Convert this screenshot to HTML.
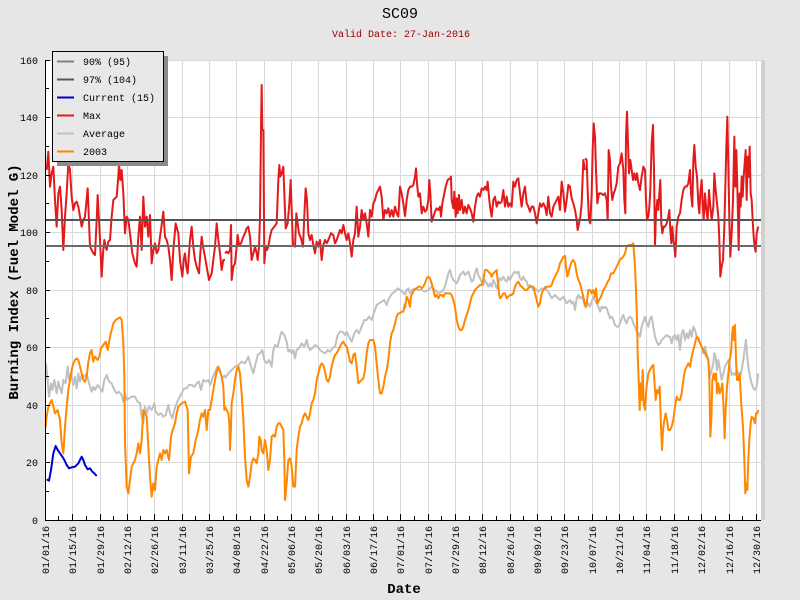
<!DOCTYPE html>
<html>
<head>
<meta charset="utf-8">
<style>
html,body{margin:0;padding:0;background:#e6e6e6;}
svg{display:block;}
text{font-family:"Liberation Mono","DejaVu Sans Mono",monospace;}
</style>
</head>
<body>
<svg width="800" height="600" viewBox="0 0 800 600" xmlns="http://www.w3.org/2000/svg">
<rect x="0" y="0" width="800" height="600" fill="#e6e6e6"/>
<!-- plot area -->
<rect x="45" y="60" width="716" height="460" fill="#ffffff"/>
<!-- grid -->
<g stroke="#d9d9d9" stroke-width="1" shape-rendering="crispEdges">
<line x1="45" y1="60.5" x2="761" y2="60.5"/>
<line x1="45" y1="117.5" x2="761" y2="117.5"/>
<line x1="45" y1="175.5" x2="761" y2="175.5"/>
<line x1="45" y1="232.5" x2="761" y2="232.5"/>
<line x1="45" y1="290.5" x2="761" y2="290.5"/>
<line x1="45" y1="347.5" x2="761" y2="347.5"/>
<line x1="45" y1="405.5" x2="761" y2="405.5"/>
<line x1="45" y1="462.5" x2="761" y2="462.5"/>
<line x1="72.5" y1="60" x2="72.5" y2="520"/>
<line x1="100.5" y1="60" x2="100.5" y2="520"/>
<line x1="127.5" y1="60" x2="127.5" y2="520"/>
<line x1="154.5" y1="60" x2="154.5" y2="520"/>
<line x1="182.5" y1="60" x2="182.5" y2="520"/>
<line x1="209.5" y1="60" x2="209.5" y2="520"/>
<line x1="236.5" y1="60" x2="236.5" y2="520"/>
<line x1="264.5" y1="60" x2="264.5" y2="520"/>
<line x1="291.5" y1="60" x2="291.5" y2="520"/>
<line x1="318.5" y1="60" x2="318.5" y2="520"/>
<line x1="346.5" y1="60" x2="346.5" y2="520"/>
<line x1="373.5" y1="60" x2="373.5" y2="520"/>
<line x1="400.5" y1="60" x2="400.5" y2="520"/>
<line x1="428.5" y1="60" x2="428.5" y2="520"/>
<line x1="455.5" y1="60" x2="455.5" y2="520"/>
<line x1="482.5" y1="60" x2="482.5" y2="520"/>
<line x1="510.5" y1="60" x2="510.5" y2="520"/>
<line x1="537.5" y1="60" x2="537.5" y2="520"/>
<line x1="564.5" y1="60" x2="564.5" y2="520"/>
<line x1="592.5" y1="60" x2="592.5" y2="520"/>
<line x1="619.5" y1="60" x2="619.5" y2="520"/>
<line x1="646.5" y1="60" x2="646.5" y2="520"/>
<line x1="674.5" y1="60" x2="674.5" y2="520"/>
<line x1="701.5" y1="60" x2="701.5" y2="520"/>
<line x1="729.5" y1="60" x2="729.5" y2="520"/>
<line x1="756.5" y1="60" x2="756.5" y2="520"/>
</g>
<rect x="761" y="60" width="4" height="460" fill="#d0d0d0"/>

<!-- Average series -->
<g fill="none" stroke="#c0c0c0" stroke-width="6" stroke-linejoin="round">
<polyline transform="translate(45,60) scale(0.333333)" points="3,910 8,960 12,1010 18,970 22,990 28,960 35,1000 40,965 45,985 50,1000 55,960 62,970 68,920 72,960 78,940 85,975 90,950 95,985 100,940 105,965 110,945 118,950 125,940 132,970 140,995 145,980 150,990 158,975 165,985 172,995 178,960 185,945 192,965 200,970 208,990 215,1000 222,995 230,1005 235,1025 240,1000 245,1020 252,1015 260,1010 270,1010 278,1025 285,1030 290,1070 295,1090 300,1040 305,1060 312,1040 320,1050 328,1030 332,1055 340,1065 348,1060 355,1070 362,1065 370,1035 375,1060 382,1075 388,1050 395,1030 402,1015 410,1000 418,985 425,985 432,975 440,975 448,980 455,970 462,965 468,990 475,960 482,965 490,960 496,975 502,955 510,935 518,920 525,930 532,955 540,945"/>
<polyline transform="translate(225,60) scale(0.333333)" points="0,955 10,940 20,930 30,920 40,915 50,905 60,910 70,890 78,920 85,940 92,910 98,885 105,880 112,870 118,900 125,910 132,900 140,920 145,870 150,855 158,860 165,830 170,815 178,825 185,845 190,875 195,870 200,880 205,870 210,895 215,870 222,865 230,850 238,860 245,840 250,860 255,870 262,865 270,855 278,860 285,870 292,875 300,880 308,870 315,875 322,865 330,860 338,825 345,815 352,815 360,825 365,815 372,830 380,845 388,820 395,810 402,820 410,800 418,780 425,780 432,770 440,780 448,755 455,735 462,730 470,725 478,720 485,735 490,720 495,710 502,700 510,695 518,685 525,690 532,695 540,705"/>
<polyline transform="translate(405,60) scale(0.333333)" points="0,705 5,690 10,685 15,700 20,690 30,685 40,690 50,690 60,695 70,690 80,680 90,690 100,700 110,695 115,690 120,680 125,660 130,640 135,630 140,650 145,660 150,665 155,670 160,660 165,645 170,640 175,635 180,645 185,640 190,635 195,650 200,665 205,660 210,640 215,625 220,645 225,655 230,665 235,675 240,660 245,670 250,680 255,670 260,680 265,660 270,670 275,685 280,670 285,655 290,660 295,650 300,660 305,665 310,650 315,660 320,650 325,640 330,635 335,640 340,635 345,655 350,660 355,650 360,660 365,665 370,680 375,675 380,680 385,690 390,685 395,690 400,695 405,690 410,685 415,690 420,680 425,690 430,695 435,705 440,715 445,710 450,705 455,710 460,715 465,720 470,715 475,710 480,720 485,730 490,725 495,720 500,730 505,725 510,750 515,715 520,705 525,715 530,710 535,720 540,740"/>
<polyline transform="translate(585,60) scale(0.333333)" points="0,745 5,740 10,730 15,740 20,725 25,710 30,720 35,730 40,740 45,755 50,740 55,745 60,740 65,745 70,760 75,775 80,770 85,780 90,795 95,800 100,800 105,790 110,775 115,765 120,780 125,790 130,775 135,770 140,775 145,790 150,800 155,815 160,820 165,830 170,800 175,785 180,770 185,790 190,800 195,775 200,770 205,800 210,830 215,845 220,855 225,850 230,840 235,835 240,830 245,825 250,830 255,830 260,850 265,830 270,825 275,840 280,825 285,870 290,820 295,810 300,840 305,820 310,835 315,810 320,830 325,800 330,810 335,830 340,840 345,850 350,860 355,880 360,860 365,880 370,900 375,950 380,930 385,910 388,880 392,890 396,930 400,900 405,930 410,960 415,940 420,920 425,910 430,900 435,920 440,945 445,940 450,945 455,930 460,940 465,950 470,930 475,900 480,860 483,840 486,880 490,920 495,950 500,970 505,985 510,990 515,980 520,940"/>
</g>

<!-- 2003 series -->
<g fill="none" stroke="#ff8800" stroke-width="6" stroke-linejoin="round">
<polyline transform="translate(45,60) scale(0.333333)" points="2,1100 5,1070 10,1040 15,1030 20,1020 25,1040 30,1060 38,1050 45,1080 50,1150 55,1180 60,1100 65,1040 70,990 75,960 80,930 85,910 90,900 95,895 100,900 105,920 110,940 115,960 120,965 125,950 130,905 135,880 140,870 145,905 150,890 158,900 163,890 168,865 175,855 182,845 188,870 195,830 200,810 205,790 212,780 220,775 225,772 230,780 235,850 238,950 240,1150 245,1280 250,1300 255,1260 260,1220 265,1210 270,1200 275,1180 280,1150 285,1180 290,1140 295,1050 300,1060 305,1070 310,1160 315,1250 320,1310 325,1270 330,1290 335,1220 340,1200 345,1180 350,1200 355,1170 360,1180 365,1170 372,1200 378,1130 383,1110 390,1090 395,1060 400,1040 410,1030 420,1025 428,1050 432,1240 438,1190 445,1180 452,1140 458,1120 465,1080 470,1060 475,1070 480,1050 485,1110 490,1050 495,1050 500,1020 505,990 510,960 515,935 520,920 525,935 530,950 535,980 538,1050 540,1040"/>
<polyline transform="translate(225,60) scale(0.333333)" points="0,1040 5,1050 10,1060 13,1090 15,1170 18,1100 20,1030 25,1000 30,960 35,930 40,920 45,940 50,1000 55,1080 60,1190 65,1260 70,1280 75,1250 80,1210 85,1195 90,1200 95,1210 100,1180 103,1130 107,1140 110,1170 115,1180 120,1140 125,1170 130,1230 135,1200 140,1130 145,1125 150,1130 155,1100 160,1090 165,1090 170,1100 175,1110 178,1200 180,1320 185,1270 190,1200 195,1195 200,1220 205,1280 210,1280 215,1170 220,1130 225,1100 230,1090 235,1070 240,1060 245,1070 250,1080 255,1060 260,1030 265,1020 270,1000 275,960 280,940 285,920 290,910 295,915 300,935 305,960 310,965 315,950 320,920 325,900 330,885 335,880 340,870 345,860 350,850 355,845 360,855 365,860 370,880 375,905 380,910 385,885 390,880 395,920 400,970 405,965 410,960 415,955 420,930 425,880 430,850 435,840 440,840 445,840 450,860 455,910 460,960 465,1000 470,1000 475,980 480,950 485,930 490,900 495,850 500,820 505,810 510,790 515,770 520,760 525,760 530,755 535,755 540,730"/>
<polyline transform="translate(405,60) scale(0.333333)" points="0,745 5,710 10,720 15,740 18,710 22,700 28,690 35,685 40,680 45,680 50,685 55,680 60,670 65,655 70,650 75,655 80,670 85,690 90,710 95,705 100,715 105,705 110,705 115,710 120,700 125,700 130,700 135,700 140,705 145,720 150,740 155,780 160,800 165,810 170,810 175,800 180,780 185,765 190,750 195,730 200,710 205,700 210,690 215,685 220,680 225,675 230,675 235,660 240,630 245,630 250,635 255,640 260,650 265,640 270,635 275,630 278,660 282,700 285,715 290,710 295,700 300,700 305,715 310,710 315,705 320,705 325,700 330,680 335,670 340,665 345,675 350,680 355,685 360,690 365,690 370,685 375,680 380,680 385,680 390,700 395,720 400,740 405,730 410,700 415,690 420,685 425,680 430,680 435,680 440,675 445,660 450,650 455,640 460,630 465,610 470,600 475,590 480,588 483,620 487,650 490,640 495,620 500,605 505,600 510,610 515,640 520,660 525,670 530,690 535,710 540,735"/>
<polyline transform="translate(585,60) scale(0.333333)" points="0,740 5,730 10,690 15,690 20,700 25,690 30,710 33,685 37,730 42,720 48,710 55,690 62,680 68,665 72,660 78,640 85,640 90,630 95,620 100,610 105,598 110,595 115,590 120,580 125,560 130,555 135,555 140,555 145,550 150,620 153,690 156,780 158,880 161,960 164,1050 167,970 170,1020 173,930 176,1030 180,1050 183,1000 186,970 190,940 195,930 200,920 205,915 208,960 212,1020 216,990 220,1000 224,980 228,1100 231,1170 234,1110 238,1080 242,1060 246,1080 250,1110 255,1110 260,1100 265,1080 270,1040 275,1010 280,1020 285,1020 290,1000 295,960 300,930 305,920 310,910 315,920 320,890 325,870 330,850 335,830 340,835 345,850 350,860 355,870 360,880 365,890 370,900 373,960 376,1130 379,1080 382,960 386,940 390,960 393,940 396,1000 400,970 404,1000 408,990 412,970 416,1050 419,1135 422,1050 426,980 430,940 434,900 438,880 441,830 444,800 447,840 450,795 453,900 456,960 460,960 464,940 467,1000 470,1050 474,1100 478,1200 481,1300 484,1270 487,1290 490,1200 493,1140 497,1090 500,1070 505,1075 510,1090 513,1060 517,1060 520,1050"/>
</g>

<!-- Max series -->
<g fill="none" stroke="#e31a1c" stroke-width="6" stroke-linejoin="round">
<polyline transform="translate(45,60) scale(0.333333)" points="5,330 10,275 15,380 20,340 25,320 30,420 35,500 40,400 45,380 50,450 55,570 60,470 65,400 70,310 75,330 80,410 85,450 90,430 95,425 100,440 105,470 110,500 115,480 120,470 128,385 135,560 140,570 145,580 150,585 155,480 158,405 162,480 165,540 170,650 174,580 178,540 182,560 185,570 190,545 195,540 200,470 205,420 210,415 215,410 220,350 222,310 226,360 230,330 235,400 240,520 245,470 250,480 255,520 262,580 270,610 275,620 280,530 285,470 290,570 295,410 300,500 305,470 310,530 315,465 320,610 325,570 330,550 335,580 340,570 345,530 348,510 355,455 360,530 365,540 370,560 375,600 380,660 385,570 392,490 400,520 405,600 412,650 416,600 420,580 424,620 428,640 432,580 435,540 440,500 445,560 450,600 455,620 462,640 466,580 470,530 474,560 478,580 485,620 492,660 500,640 505,600 510,560 515,490 520,540 525,580 530,630 535,600 540,600"/>
<polyline transform="translate(225,60) scale(0.333333)" points="0,580 5,575 10,580 15,570 18,495 20,660 25,620 30,610 35,560 38,525 42,555 48,550 55,530 60,520 65,505 70,500 75,530 80,600 85,580 90,560 95,580 98,600 102,560 105,470 108,210 110,75 112,210 115,210 118,610 122,560 126,570 130,560 135,530 140,510 148,500 155,490 160,360 163,315 166,350 170,340 175,320 178,400 182,505 188,490 193,430 197,360 200,450 204,555 210,560 214,460 218,490 222,520 228,535 234,560 238,465 242,385 246,420 250,520 255,540 260,525 265,555 270,580 275,545 280,560 285,540 290,600 295,555 300,540 305,550 310,540 318,520 325,525 330,550 335,540 340,525 345,510 350,520 355,495 360,520 365,540 370,520 375,550 380,590 385,540 390,520 395,440 400,530 405,500 410,450 415,480 420,460 425,490 430,530 435,450 440,470 445,430 450,420 455,400 460,390 465,380 470,410 475,480 480,450 485,460 490,445 495,470 500,450 505,470 510,440 515,460 520,470 525,380 530,400 535,430 540,470"/>
<polyline transform="translate(405,60) scale(0.333333)" points="0,470 5,420 10,390 15,380 20,380 25,375 30,350 33,325 36,370 40,410 45,400 50,460 55,440 60,455 65,450 70,420 73,360 76,400 80,485 85,470 90,455 95,445 100,450 105,440 108,470 112,430 118,400 122,380 128,360 135,355 138,350 140,420 145,445 148,395 152,470 155,415 158,460 162,405 165,450 170,420 175,460 180,440 185,460 190,435 195,445 200,460 205,485 210,440 215,410 220,400 225,410 230,385 235,390 240,380 245,390 248,365 252,410 255,440 260,470 265,420 270,410 275,440 280,425 285,430 290,425 295,390 300,440 305,410 310,440 315,430 320,440 325,365 330,380 335,360 340,355 345,400 350,440 355,400 360,380 365,430 370,440 375,455 380,440 385,440 390,460 395,490 400,460 405,430 410,440 415,430 420,440 425,465 430,410 435,460 440,470 445,440 450,430 455,420 460,410 465,450 470,365 475,400 480,455 485,420 490,375 495,380 500,415 505,430 510,450 515,480 518,510 522,490 526,470 530,430 535,300 540,330"/>
<polyline transform="translate(585,60) scale(0.333333)" points="0,295 5,300 8,390 12,480 16,490 20,400 23,270 26,190 30,230 33,330 37,430 42,400 48,400 55,405 60,400 65,420 68,480 71,270 75,300 78,380 82,420 86,400 90,390 95,370 100,320 105,310 110,280 115,330 118,420 121,460 123,230 126,155 129,250 132,340 136,300 140,330 144,360 148,340 152,360 156,340 160,370 165,390 170,350 175,320 180,330 183,420 186,480 190,470 193,440 196,390 200,250 204,195 207,330 210,555 213,460 217,420 220,450 223,400 226,360 229,490 232,520 236,500 240,500 245,490 250,470 253,450 256,510 259,550 262,500 265,540 268,560 271,590 275,500 280,470 285,460 290,420 295,390 300,380 305,380 310,370 315,330 318,400 322,440 325,300 328,255 332,320 336,350 340,430 343,460 346,400 350,360 353,430 356,480 360,400 364,450 368,480 372,390 376,440 380,480 385,440 388,340 392,390 396,430 400,470 403,540 406,650 410,620 414,600 418,500 421,380 424,260 427,170 430,320 433,480 436,590 440,520 444,420 448,230 451,380 454,270 458,420 461,570 464,400 467,440 470,350 473,410 476,350 479,310 482,270 485,420 488,290 491,350 494,260 497,400 500,420 503,480 506,530 509,560 512,575 515,520 520,500"/>
</g>

<!-- threshold lines -->
<g shape-rendering="crispEdges">
<rect x="45" y="219" width="716" height="2" fill="#555555"/>
<rect x="45" y="245" width="716" height="2" fill="#6a6a6a"/>
</g>

<!-- Current series -->
<polyline transform="translate(45,60) scale(0.333333)" fill="none" stroke="#0000cc" stroke-width="6" stroke-linejoin="round" points="5,1258 12,1262 18,1230 25,1180 32,1158 38,1170 45,1180 52,1190 58,1200 65,1215 72,1225 80,1222 90,1220 100,1210 105,1200 110,1190 115,1200 120,1215 128,1228 135,1225 142,1235 148,1240 155,1248"/>

<!-- axes -->
<g stroke="#000" stroke-width="1" shape-rendering="crispEdges">
<line x1="45.5" y1="60" x2="45.5" y2="521"/>
<line x1="45" y1="520.5" x2="761" y2="520.5"/>
<!-- y ticks -->
<line x1="45" y1="60.5" x2="50" y2="60.5"/>
<line x1="45" y1="88.5" x2="49" y2="88.5"/>
<line x1="45" y1="117.5" x2="50" y2="117.5"/>
<line x1="45" y1="146.5" x2="49" y2="146.5"/>
<line x1="45" y1="175.5" x2="50" y2="175.5"/>
<line x1="45" y1="203.5" x2="49" y2="203.5"/>
<line x1="45" y1="232.5" x2="50" y2="232.5"/>
<line x1="45" y1="261.5" x2="49" y2="261.5"/>
<line x1="45" y1="290.5" x2="50" y2="290.5"/>
<line x1="45" y1="318.5" x2="49" y2="318.5"/>
<line x1="45" y1="347.5" x2="50" y2="347.5"/>
<line x1="45" y1="376.5" x2="49" y2="376.5"/>
<line x1="45" y1="405.5" x2="50" y2="405.5"/>
<line x1="45" y1="433.5" x2="49" y2="433.5"/>
<line x1="45" y1="462.5" x2="50" y2="462.5"/>
<line x1="45" y1="491.5" x2="49" y2="491.5"/>
<!-- x minor ticks -->
<line x1="58.5" y1="516" x2="58.5" y2="520"/>
<line x1="86.5" y1="516" x2="86.5" y2="520"/>
<line x1="113.5" y1="516" x2="113.5" y2="520"/>
<line x1="140.5" y1="516" x2="140.5" y2="520"/>
<line x1="168.5" y1="516" x2="168.5" y2="520"/>
<line x1="195.5" y1="516" x2="195.5" y2="520"/>
<line x1="223.5" y1="516" x2="223.5" y2="520"/>
<line x1="250.5" y1="516" x2="250.5" y2="520"/>
<line x1="277.5" y1="516" x2="277.5" y2="520"/>
<line x1="305.5" y1="516" x2="305.5" y2="520"/>
<line x1="332.5" y1="516" x2="332.5" y2="520"/>
<line x1="359.5" y1="516" x2="359.5" y2="520"/>
<line x1="387.5" y1="516" x2="387.5" y2="520"/>
<line x1="414.5" y1="516" x2="414.5" y2="520"/>
<line x1="441.5" y1="516" x2="441.5" y2="520"/>
<line x1="469.5" y1="516" x2="469.5" y2="520"/>
<line x1="496.5" y1="516" x2="496.5" y2="520"/>
<line x1="523.5" y1="516" x2="523.5" y2="520"/>
<line x1="551.5" y1="516" x2="551.5" y2="520"/>
<line x1="578.5" y1="516" x2="578.5" y2="520"/>
<line x1="606.5" y1="516" x2="606.5" y2="520"/>
<line x1="633.5" y1="516" x2="633.5" y2="520"/>
<line x1="660.5" y1="516" x2="660.5" y2="520"/>
<line x1="688.5" y1="516" x2="688.5" y2="520"/>
<line x1="715.5" y1="516" x2="715.5" y2="520"/>
<line x1="742.5" y1="516" x2="742.5" y2="520"/>
<!-- x major ticks -->
<line x1="72.5" y1="514" x2="72.5" y2="520"/>
<line x1="100.5" y1="514" x2="100.5" y2="520"/>
<line x1="127.5" y1="514" x2="127.5" y2="520"/>
<line x1="154.5" y1="514" x2="154.5" y2="520"/>
<line x1="182.5" y1="514" x2="182.5" y2="520"/>
<line x1="209.5" y1="514" x2="209.5" y2="520"/>
<line x1="236.5" y1="514" x2="236.5" y2="520"/>
<line x1="264.5" y1="514" x2="264.5" y2="520"/>
<line x1="291.5" y1="514" x2="291.5" y2="520"/>
<line x1="318.5" y1="514" x2="318.5" y2="520"/>
<line x1="346.5" y1="514" x2="346.5" y2="520"/>
<line x1="373.5" y1="514" x2="373.5" y2="520"/>
<line x1="400.5" y1="514" x2="400.5" y2="520"/>
<line x1="428.5" y1="514" x2="428.5" y2="520"/>
<line x1="455.5" y1="514" x2="455.5" y2="520"/>
<line x1="482.5" y1="514" x2="482.5" y2="520"/>
<line x1="510.5" y1="514" x2="510.5" y2="520"/>
<line x1="537.5" y1="514" x2="537.5" y2="520"/>
<line x1="564.5" y1="514" x2="564.5" y2="520"/>
<line x1="592.5" y1="514" x2="592.5" y2="520"/>
<line x1="619.5" y1="514" x2="619.5" y2="520"/>
<line x1="646.5" y1="514" x2="646.5" y2="520"/>
<line x1="674.5" y1="514" x2="674.5" y2="520"/>
<line x1="701.5" y1="514" x2="701.5" y2="520"/>
<line x1="729.5" y1="514" x2="729.5" y2="520"/>
<line x1="756.5" y1="514" x2="756.5" y2="520"/>
</g>

<!-- y tick labels -->
<g font-size="10" fill="#000" text-anchor="end">
<text x="38" y="64">160</text>
<text x="38" y="121">140</text>
<text x="38" y="179">120</text>
<text x="38" y="236">100</text>
<text x="38" y="294">80</text>
<text x="38" y="351">60</text>
<text x="38" y="409">40</text>
<text x="38" y="466">20</text>
<text x="38" y="524">0</text>
</g>

<!-- x tick labels -->
<g font-size="10" fill="#000" text-anchor="end">
<text transform="translate(49,526) rotate(-90)">01/01/16</text>
<text transform="translate(76,526) rotate(-90)">01/15/16</text>
<text transform="translate(104,526) rotate(-90)">01/29/16</text>
<text transform="translate(131,526) rotate(-90)">02/12/16</text>
<text transform="translate(158,526) rotate(-90)">02/26/16</text>
<text transform="translate(186,526) rotate(-90)">03/11/16</text>
<text transform="translate(213,526) rotate(-90)">03/25/16</text>
<text transform="translate(240,526) rotate(-90)">04/08/16</text>
<text transform="translate(268,526) rotate(-90)">04/22/16</text>
<text transform="translate(295,526) rotate(-90)">05/06/16</text>
<text transform="translate(322,526) rotate(-90)">05/20/16</text>
<text transform="translate(350,526) rotate(-90)">06/03/16</text>
<text transform="translate(377,526) rotate(-90)">06/17/16</text>
<text transform="translate(404,526) rotate(-90)">07/01/16</text>
<text transform="translate(432,526) rotate(-90)">07/15/16</text>
<text transform="translate(459,526) rotate(-90)">07/29/16</text>
<text transform="translate(486,526) rotate(-90)">08/12/16</text>
<text transform="translate(514,526) rotate(-90)">08/26/16</text>
<text transform="translate(541,526) rotate(-90)">09/09/16</text>
<text transform="translate(568,526) rotate(-90)">09/23/16</text>
<text transform="translate(596,526) rotate(-90)">10/07/16</text>
<text transform="translate(623,526) rotate(-90)">10/21/16</text>
<text transform="translate(650,526) rotate(-90)">11/04/16</text>
<text transform="translate(678,526) rotate(-90)">11/18/16</text>
<text transform="translate(705,526) rotate(-90)">12/02/16</text>
<text transform="translate(733,526) rotate(-90)">12/16/16</text>
<text transform="translate(760,526) rotate(-90)">12/30/16</text>
</g>

<!-- titles -->
<text x="400" y="18" font-size="15" text-anchor="middle" fill="#000">SC09</text>
<text x="401" y="37" font-size="10" text-anchor="middle" fill="#a00000">Valid Date: 27-Jan-2016</text>
<text x="404" y="593" font-size="14" font-weight="bold" text-anchor="middle" fill="#000">Date</text>
<text transform="translate(18,282) rotate(-90)" font-size="14" font-weight="bold" text-anchor="middle" fill="#000">Burning Index (Fuel Model G)</text>

<!-- legend -->
<rect x="57" y="56" width="111" height="110" fill="#8a8a8a"/>
<rect x="52.5" y="51.5" width="111" height="110" fill="#e8e8e8" stroke="#000" stroke-width="1" shape-rendering="crispEdges"/>
<g stroke-width="2" shape-rendering="crispEdges">
<line x1="57" y1="61.5" x2="74" y2="61.5" stroke="#808080"/>
<line x1="57" y1="79.5" x2="74" y2="79.5" stroke="#585858"/>
<line x1="57" y1="97.5" x2="74" y2="97.5" stroke="#0000cc"/>
<line x1="57" y1="115.5" x2="74" y2="115.5" stroke="#e31a1c"/>
<line x1="57" y1="133.5" x2="74" y2="133.5" stroke="#c0c0c0"/>
<line x1="57" y1="151.5" x2="74" y2="151.5" stroke="#ff8800"/>
</g>
<g font-size="10" fill="#000">
<text x="83" y="65">90% (95)</text>
<text x="83" y="83">97% (104)</text>
<text x="83" y="101">Current (15)</text>
<text x="83" y="119">Max</text>
<text x="83" y="137">Average</text>
<text x="83" y="155">2003</text>
</g>
</svg>
</body>
</html>
